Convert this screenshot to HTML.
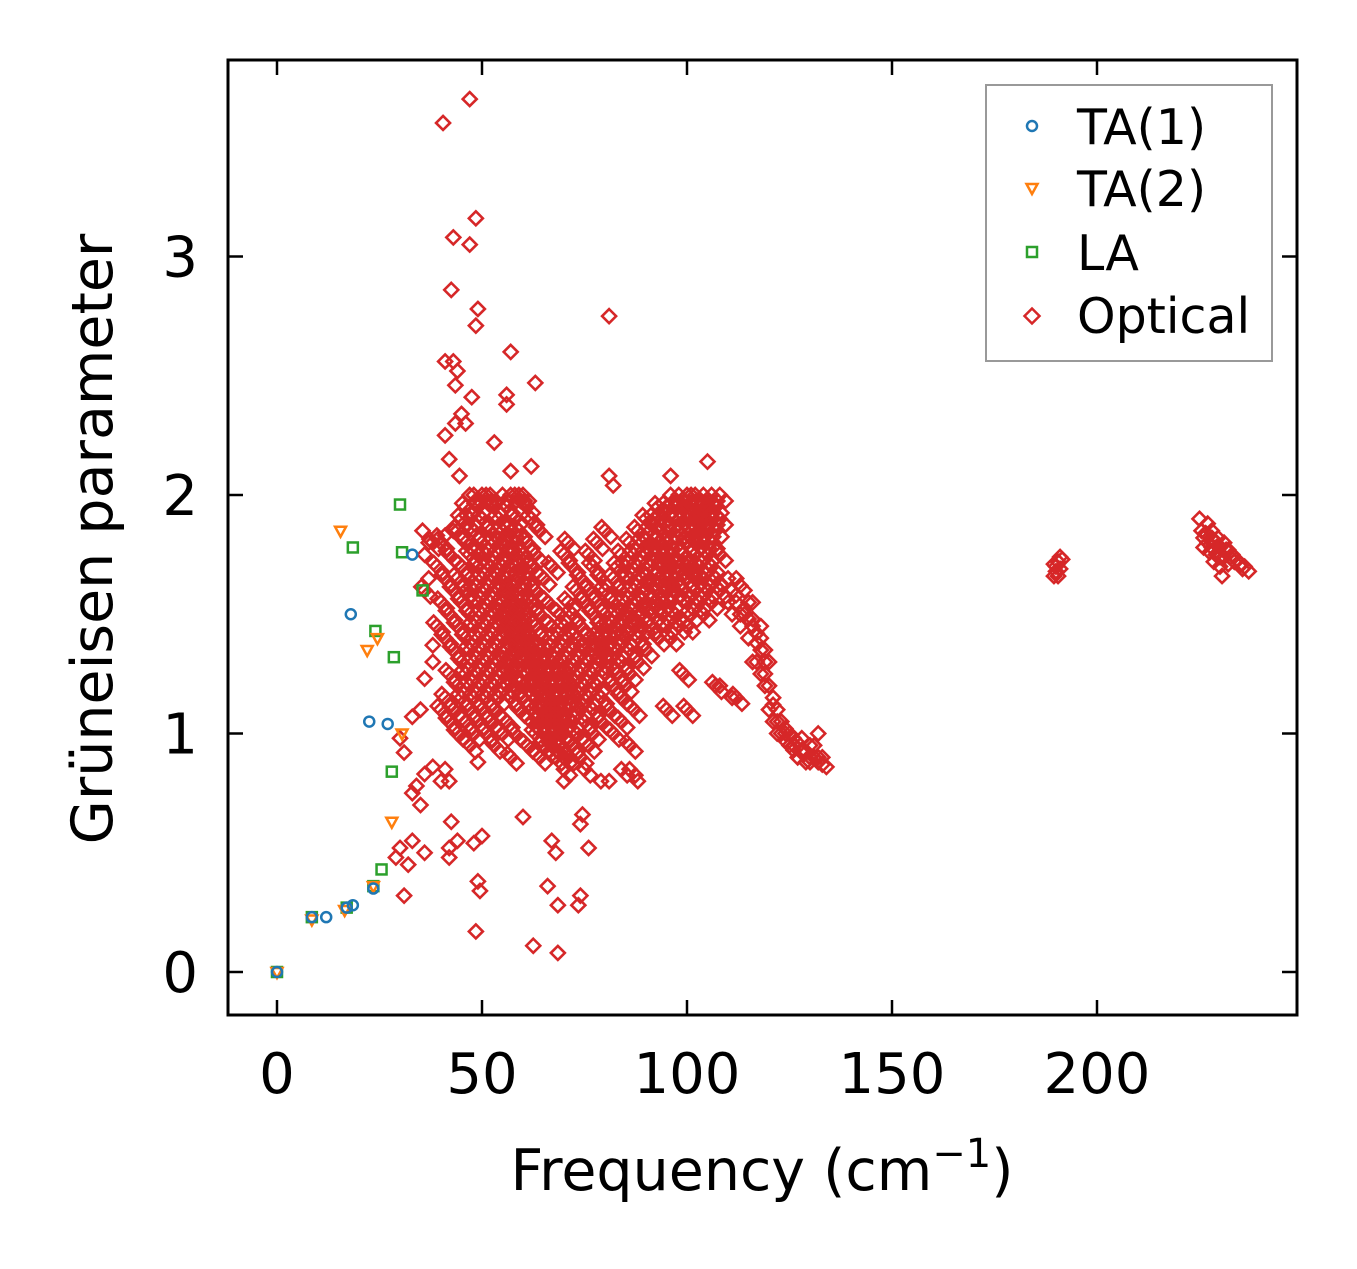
<!DOCTYPE html>
<html><head><meta charset="utf-8"><style>
body{margin:0;background:#fff;}
svg text{font-family:"DejaVu Sans","Liberation Sans",sans-serif;fill:#000;}
</style></head><body>
<svg id="chart" width="1357" height="1264" viewBox="0 0 1357 1264" xmlns="http://www.w3.org/2000/svg">
<rect x="0" y="0" width="1357" height="1264" fill="#fff"/>
<g id="marks"></g>
<g id="axes"></g>
<text x="762" y="1190" font-size="57" text-anchor="middle">Frequency (cm<tspan dy="-23" font-size="40">−1</tspan><tspan dy="23">)</tspan></text>
<text transform="translate(112,539) rotate(-90)" font-size="57" text-anchor="middle">Grüneisen parameter</text>
<g>
<rect x="986" y="85" width="286" height="276" fill="#fff" stroke="#999" stroke-width="2"/>
<circle cx="1032" cy="126" r="5" fill="none" stroke="#1f77b4" stroke-width="2.5"/>
<text x="1077" y="144" font-size="49">TA(1)</text>
<path d="M1026.5,184 L1037.5,184 L1032,194 Z" fill="none" stroke="#ff7f0e" stroke-width="2.5"/>
<text x="1077" y="206" font-size="49">TA(2)</text>
<rect x="1027" y="247" width="10" height="10" fill="none" stroke="#2ca02c" stroke-width="2.5"/>
<text x="1077" y="270" font-size="49">LA</text>
<path d="M1032,308.5 L1039.5,316 L1032,323.5 L1024.5,316 Z" fill="none" stroke="#d62728" stroke-width="2.5"/>
<text x="1077" y="333" font-size="49">Optical</text>
</g>
</svg>
<script>
const xTicks=[0,50,100,150,200];
const yTicks=[0,1,2,3];
const ta1X=[0,8.5,12,17,18.5,23.5,22.5,27,18,33];
const ta1Y=[0,0.23,0.23,0.27,0.28,0.35,1.05,1.04,1.5,1.75];
const ta2X=[0,8.5,16.5,23.5,15.5,22,24.5,30.5,28];
const ta2Y=[0,0.22,0.26,0.36,1.85,1.35,1.4,1.0,0.63];
const laX=[0,8.5,17,23.5,25.5,28,28.5,24,18.5,30.5,30,35.5];
const laY=[0,0.23,0.27,0.36,0.43,0.84,1.32,1.43,1.78,1.76,1.96,1.6];
const optRowY=[2.0,1.95,1.9,1.85,1.8,1.75,1.7,1.65,1.6,1.55,1.5,1.45,1.4,1.35,1.3,1.25,1.2,1.15,1.1,1.05,1.0,0.95,0.9,0.85,0.8];
const optRowX=[
[47,48,50,51,52,55,57,58,59,60,96,98,100,101,102,104,106,108],
[46,49,53,56,61,93,95,97,99,103,105,107,101.5,104.5],
[45,47,50,54,58,62,90,92,94,100,102,104,106,108,98,96.5,103],
[44,48,52,55,57,59,64,80,88,91,96,98,101,103,105,107,99.5,93.5],
[38,40,46,50,53,56,58,61,71,78,86,89,93,95,97,100,104,106,102,91,55],
[42,47,51,54,57,60,63,70,76,84,87,90,92,99,102,105,108,96,94,49,58.5],
[39,45,49,52,55,58,62,67,72,77,83,85,88,94,96,98,101,103,106,91,100,56.5,60],
[41,44,47,50,53,56,59,61,65,74,79,82,86,89,91,93,97,100,104,107,95,102,54.5],
[36,43,46,48,51,54,57,60,63,73,76,80,84,87,90,95,99,102,105,108,92.5,97,55.5,58.5],
[40,45,49,52,55,58,62,66,71,75,78,82,85,88,92,96,100,103,106,90,94,57,60.5],
[42,47,50,53,56,59,61,64,69,72,77,80,83,86,89,94,97,101,104,91.5,85,58,55],
[39,44,48,51,54,57,60,63,67,70,74,79,81,84,87,91,95,98,100,82.5,89,56,59],
[41,46,49,52,55,58,61,65,68,71,73,76,78,82,85,88,93,96,80,57,60],
[43,47,50,53,56,59,62,64,66,69,72,75,77,80,83,86,90,58,61,79],
[45,48,51,54,57,60,63,65,67,70,73,76,79,81,84,88,56,62,68.5],
[42,46,49,52,55,58,61,64,66,68,71,74,77,80,83,86,99,57,63,69.5],
[44,47,50,53,56,60,62,65,67,69,72,75,78,82,85,107,58,64,70.5],
[41,45,48,51,54,57,63,66,68,70,73,76,79,84,112,60,65.5,71.5],
[40,43,47,50,53,59,64,67,69,71,74,77,81,87,95,100,62,66,68],
[42,46,49,52,56,62,66,68,72,75,79,84,64,70],
[44,48,51,55,58,63,67,70,73,77,82,65,69],
[47,53,61,65,69,72,76,86,67],
[57,64,68,71,74,70],
[70,75,84,86],
[70,79,81,88]];
const optExtraX=[40.5,47,43,48.5,47,42.5,49,48.5,81,57,63,41,43,44,43.5,47.5,56,56,53,45,46,43.5,41,42,44.5,62,57,81,82,105,96,
48.5,62.5,68.5,49.5,49,31,32,29,30,33,36,42,42,44,48,50,60,66,68.5,73.5,74,67,68,76,74,74.5,42.5,35,33,34,36,38,40,41,42,49,30,31,33,35,36,38,38,39,37,36,37,35.5,39,41,43,
110,111,112,113,114,115,116,117,118,119,120,121,122,123,124,125,126,127,128,129,130,131,132,133,134,111,113,115,117,119,121,123,125,127,129,131,132,110,112,114,116,118,120,122,124,126,128,130,133,116,118,120,108,111,
112,114,116,118,119,121,122,124,126,128,130,132,113,115,117,119,
189.5,190,190.5,191,191.5,190,189.5,191,190.5,
225,225.5,226,227,227,228,228,229,229.5,230,230,231,231,232,233,234,235,236,237,226,228.5,230.5,232,
226.5,227.5,229,230,231.5,233.5,235.5,228,232.5];
const optExtraY=[3.56,3.66,3.08,3.16,3.05,2.86,2.78,2.71,2.75,2.6,2.47,2.56,2.56,2.52,2.46,2.41,2.42,2.38,2.22,2.34,2.3,2.3,2.25,2.15,2.08,2.12,2.1,2.08,2.04,2.14,2.08,
0.17,0.11,0.08,0.34,0.38,0.32,0.45,0.48,0.52,0.55,0.5,0.48,0.52,0.55,0.54,0.57,0.65,0.36,0.28,0.28,0.32,0.55,0.5,0.52,0.62,0.66,0.63,0.7,0.75,0.78,0.83,0.86,0.8,0.85,0.8,0.88,0.98,0.92,1.07,1.1,1.23,1.3,1.37,1.45,1.65,1.75,1.8,1.85,1.83,1.83,1.85,
1.65,1.6,1.55,1.62,1.5,1.55,1.45,1.42,1.35,1.3,1.2,1.15,1.1,1.05,1.02,1.0,0.98,0.96,0.93,0.92,0.9,0.9,0.88,0.87,0.86,1.5,1.45,1.4,1.3,1.2,1.05,1.0,0.95,0.9,0.88,0.95,1.0,1.55,1.65,1.6,1.55,1.45,1.3,1.0,0.97,0.93,0.98,0.95,0.9,1.3,1.25,1.1,1.2,1.15,
1.58,1.52,1.48,1.4,1.25,1.12,1.05,1.0,0.95,0.92,0.88,0.9,1.5,1.48,1.38,1.35,
1.66,1.7,1.72,1.74,1.73,1.68,1.71,1.69,1.66,
1.9,1.85,1.82,1.88,1.8,1.78,1.85,1.75,1.82,1.7,1.78,1.8,1.74,1.77,1.75,1.73,1.71,1.7,1.68,1.78,1.72,1.66,1.71,
1.84,1.76,1.8,1.74,1.77,1.72,1.69,1.82,1.74];

const NS='http://www.w3.org/2000/svg';
const X0=277,XS=4.1,Y0=972,YS=238.5;
function xs(v){return X0+v*XS;}
function ys(v){return Y0-v*YS;}
const marks=document.getElementById('marks');
const axes=document.getElementById('axes');
function mk(tag,attrs,parent){const e=document.createElementNS(NS,tag);for(const k in attrs)e.setAttribute(k,attrs[k]);parent.appendChild(e);return e;}

function diamond(x,y){const cx=xs(x),cy=ys(y);
 const e=mk('path',{d:`M${cx},${cy-7} L${cx+7},${cy} L${cx},${cy+7} L${cx-7},${cy} Z`,fill:'none',stroke:'#d62728','stroke-width':2.6},marks);
 
 }
optRowY.forEach((yv,i)=>{optRowX[i].forEach(xv=>diamond(xv,yv));});
optRowY.forEach((yv,i)=>{if(i<optRowY.length-1){optRowX[i].forEach(xv=>diamond(xv+1.4,yv-0.025));}});
optRowY.forEach((yv,i)=>{if(i>0&&i<optRowY.length-2){optRowX[i].forEach(xv=>diamond(xv-0.8,yv+0.015));}});
optExtraX.forEach((xv,i)=>diamond(xv,optExtraY[i]));
laX.forEach((xv,i)=>{const cx=xs(xv),cy=ys(laY[i]);
 const e=mk('rect',{x:cx-5,y:cy-5,width:10,height:10,fill:'none',stroke:'#2ca02c','stroke-width':2.5},marks);
 
 });
ta2X.forEach((xv,i)=>{const cx=xs(xv),cy=ys(ta2Y[i]);
 const e=mk('path',{d:`M${cx-5.5},${cy-4} L${cx+5.5},${cy-4} L${cx},${cy+6} Z`,fill:'none',stroke:'#ff7f0e','stroke-width':2.5},marks);
 
 });
ta1X.forEach((xv,i)=>{
 const e=mk('circle',{cx:xs(xv),cy:ys(ta1Y[i]),r:5,fill:'none',stroke:'#1f77b4','stroke-width':2.5},marks);
 
 });

const fr=mk('rect',{x:228,y:60,width:1069,height:955,fill:'none',stroke:'#000','stroke-width':3},axes);


xTicks.forEach(t=>{const x=xs(t);
 mk('line',{x1:x,x2:x,y1:1015,y2:1000,stroke:'#000','stroke-width':2.5},axes);
 mk('line',{x1:x,x2:x,y1:60,y2:75,stroke:'#000','stroke-width':2.5},axes);
 const tx=mk('text',{x:x,y:1093,'font-size':56,'text-anchor':'middle'},axes);tx.textContent=t;
 
 });
yTicks.forEach(t=>{const y=ys(t);
 mk('line',{x1:228,x2:243,y1:y,y2:y,stroke:'#000','stroke-width':2.5},axes);
 mk('line',{x1:1297,x2:1282,y1:y,y2:y,stroke:'#000','stroke-width':2.5},axes);
 const tx=mk('text',{x:198,y:y+20,'font-size':56,'text-anchor':'end'},axes);tx.textContent=t;
 
 });
</script>
</body></html>
